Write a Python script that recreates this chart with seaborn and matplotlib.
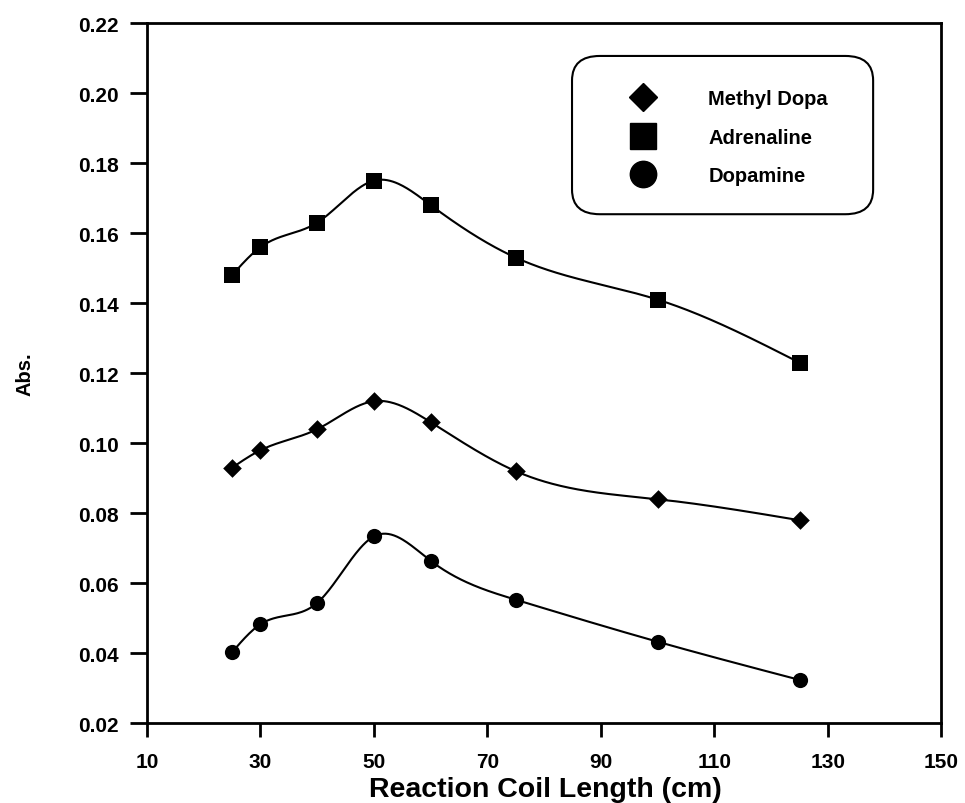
import numpy as np
import pandas as pd
import matplotlib
matplotlib.use("Agg")
import matplotlib.pyplot as plt
import seaborn as sns
from matplotlib.lines import Line2D
from matplotlib.patches import FancyBboxPatch

# ---- data ----
coil_length = [25, 30, 40, 50, 60, 75, 100, 125]
methyl_dopa = [0.093, 0.098, 0.104, 0.112, 0.106, 0.092, 0.084, 0.078]
adrenaline = [0.148, 0.156, 0.163, 0.175, 0.168, 0.153, 0.141, 0.123]
dopamine = [0.0403, 0.0483, 0.0544, 0.0734, 0.0664, 0.0553, 0.0433, 0.0324]
series_names = ["Methyl Dopa", "Adrenaline", "Dopamine"]
series_values = [methyl_dopa, adrenaline, dopamine]
series_markers = ["D", "s", "o"]
x_ticks = [10, 30, 50, 70, 90, 110, 130, 150]
y_ticks = [0.02, 0.04, 0.06, 0.08, 0.10, 0.12, 0.14, 0.16, 0.18, 0.20, 0.22]


def natural_spline(x, y, num=400):
    x = np.asarray(x, float)
    y = np.asarray(y, float)
    n = len(x)
    h = np.diff(x)
    A = np.zeros((n, n))
    b = np.zeros(n)
    A[0, 0] = 1
    A[-1, -1] = 1
    for i in range(1, n - 1):
        A[i, i - 1] = h[i - 1]
        A[i, i] = 2 * (h[i - 1] + h[i])
        A[i, i + 1] = h[i]
        b[i] = 6 * ((y[i + 1] - y[i]) / h[i] - (y[i] - y[i - 1]) / h[i - 1])
    M = np.linalg.solve(A, b)
    xs = np.linspace(x[0], x[-1], num)
    idx = np.clip(np.searchsorted(x, xs) - 1, 0, n - 2)
    x0, x1 = x[idx], x[idx + 1]
    hh = x1 - x0
    t0 = x1 - xs
    t1 = xs - x0
    ys = (M[idx] * t0 ** 3 / (6 * hh) + M[idx + 1] * t1 ** 3 / (6 * hh)
          + (y[idx] / hh - M[idx] * hh / 6) * t0
          + (y[idx + 1] / hh - M[idx + 1] * hh / 6) * t1)
    return xs, ys


sns.set_style("ticks")
plt.rcParams["font.family"] = ["Liberation Sans", "DejaVu Sans"]
plt.rcParams["font.weight"] = "bold"
for key in ["text.color", "axes.labelcolor", "xtick.color", "ytick.color", "axes.edgecolor"]:
    plt.rcParams[key] = "black"

fig = plt.figure(figsize=(9.65, 8.04), dpi=100)
ax = fig.add_axes([0.1523, 0.0991, 0.8233, 0.871])

pts_rows = []
curve_rows = []
for name, vals in zip(series_names, series_values):
    xs, ys = natural_spline(coil_length, vals)
    curve_rows.append(pd.DataFrame({"x": xs, "y": ys, "series": name}))
    pts_rows.append(pd.DataFrame({"x": coil_length, "y": vals, "series": name}))
curves = pd.concat(curve_rows, ignore_index=True)
pts = pd.concat(pts_rows, ignore_index=True)

sns.lineplot(data=curves, x="x", y="y", units="series", estimator=None,
             color="black", linewidth=1.5, ax=ax, legend=False, sort=False)
marker_map = dict(zip(series_names, series_markers))
sizes = {"D": 90, "s": 130, "o": 120}
for name in series_names:
    sub = pts[pts["series"] == name]
    m = marker_map[name]
    sns.scatterplot(data=sub, x="x", y="y", marker=m, s=sizes[m], color="black",
                    edgecolor="black", linewidth=0, ax=ax, legend=False, zorder=5)

ax.set_xlim(10, 150)
ax.set_ylim(0.02, 0.22)
ax.set_xticks(x_ticks)
ax.set_yticks(y_ticks)
ax.set_xticklabels([str(v) for v in x_ticks], fontsize=15, fontweight="bold")
ax.set_yticklabels([f"{v:.2f}" for v in y_ticks], fontsize=15, fontweight="bold")
ax.tick_params(axis="y", direction="out", length=12, width=2, pad=8)
ax.tick_params(axis="x", direction="out", length=10, width=2, pad=11)
for sp in ax.spines.values():
    sp.set_linewidth(2)
    sp.set_visible(True)
    sp.set_color("black")

ax.set_xlabel("Reaction Coil Length (cm)", fontsize=20.5, fontweight="bold")
ax.set_ylabel("Abs.", fontsize=14.5, fontweight="bold")
ax.xaxis.set_label_coords(0.502, -0.075)
ax.yaxis.set_label_coords(-0.141, 0.5)

# legend box
box = FancyBboxPatch((0.535, 0.727), 0.379, 0.226, transform=ax.transAxes,
                     boxstyle="round,pad=0,rounding_size=0.035",
                     facecolor="white", edgecolor="black", linewidth=1.5, zorder=6)
ax.add_patch(box)
handles = [Line2D([], [], linestyle="none", marker=m, color="black",
                  markersize={"D": 14, "s": 19, "o": 19}[m]) for m in series_markers]
leg = ax.legend(handles, series_names, loc="center left", bbox_to_anchor=(0.599, 0.837),
                frameon=False, borderpad=0, borderaxespad=0, handlelength=2.0,
                handletextpad=2.25, labelspacing=0.98,
                prop={"family": "Liberation Sans", "weight": "bold", "size": 14.5})
leg.set_zorder(7)

fig.savefig("out.png", dpi=100)
